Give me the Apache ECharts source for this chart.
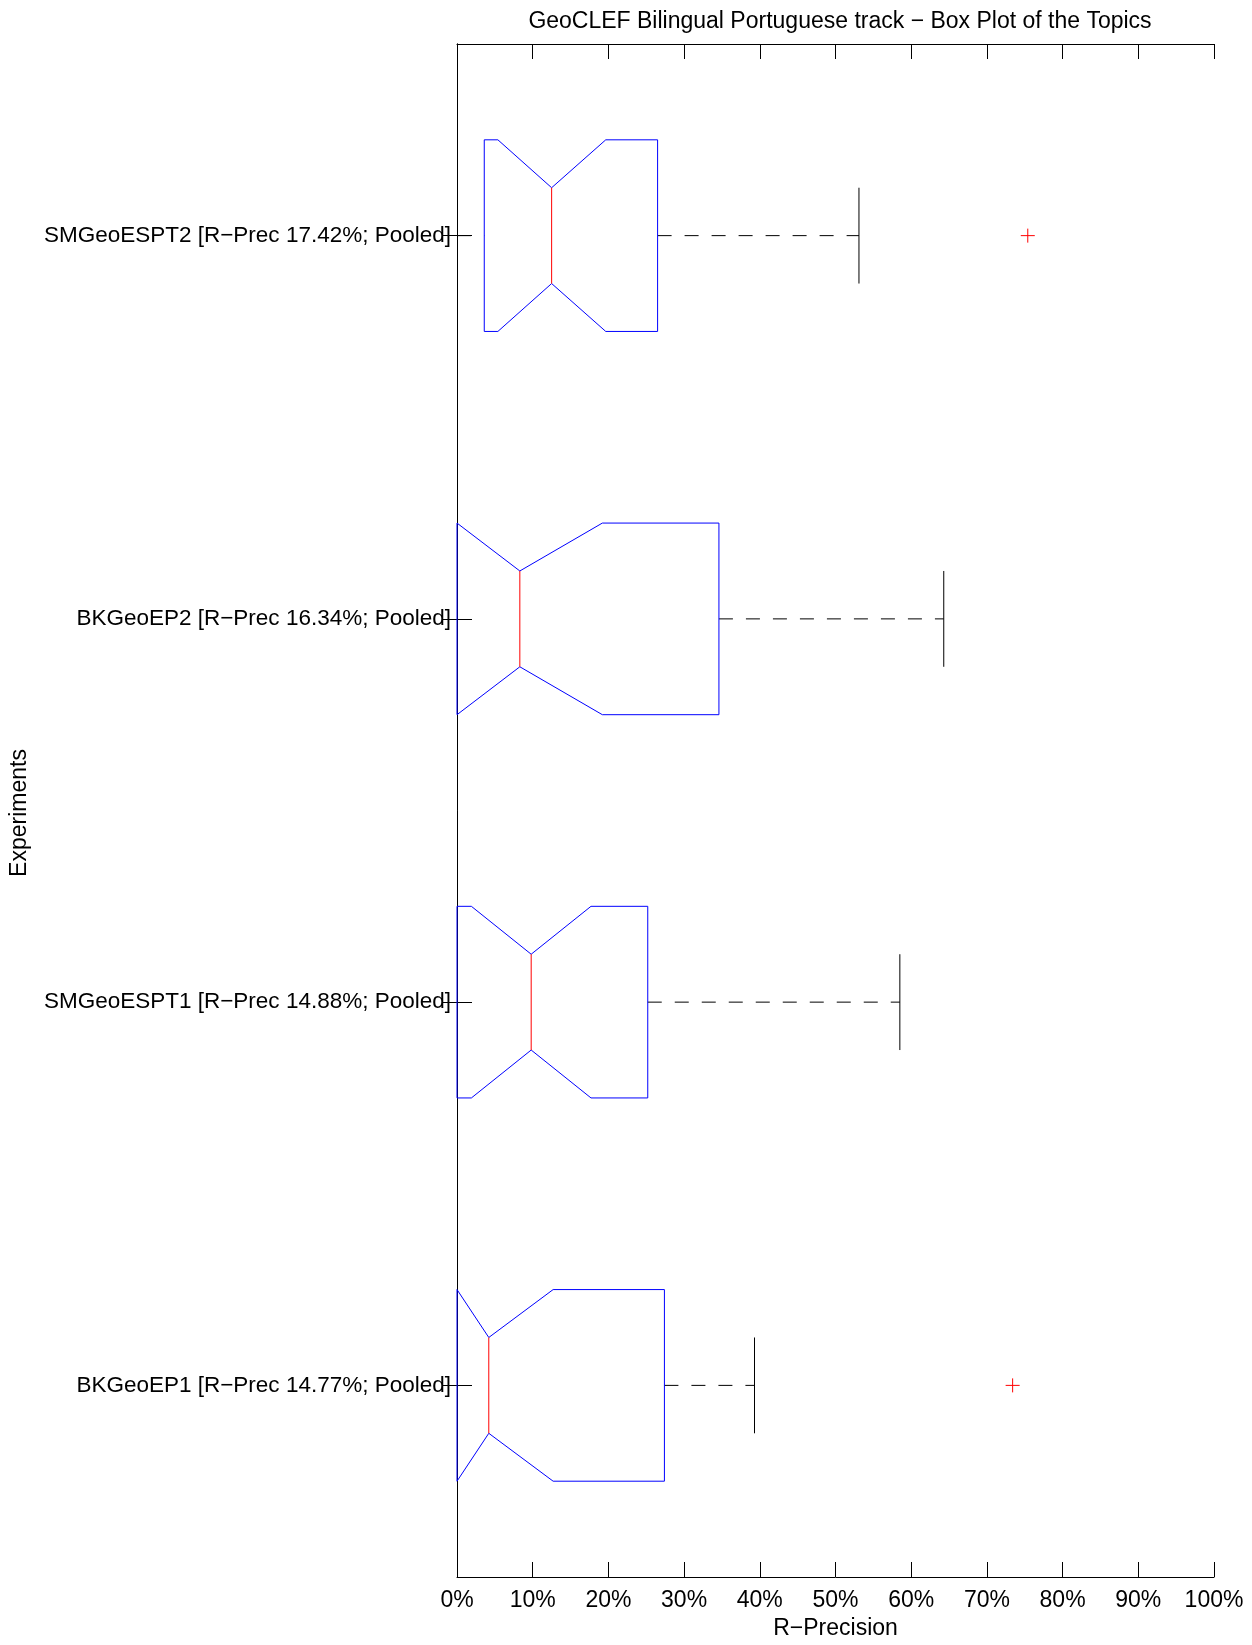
<!DOCTYPE html>
<html>
<head>
<meta charset="utf-8">
<script src="https://cdn.jsdelivr.net/npm/echarts@6/dist/echarts.min.js"></script>
<style>
  html, body { margin: 0; padding: 0; background: #fff; }
  #chart { width: 1252px; height: 1645px; }
</style>
</head>
<body>
<div id="chart"></div>
<script>
// ---- Data (categories listed bottom to top) ----
const categories = [
  'BKGeoEP1 [R\u2212Prec 14.77%; Pooled]',
  'SMGeoESPT1 [R\u2212Prec 14.88%; Pooled]',
  'BKGeoEP2 [R\u2212Prec 16.34%; Pooled]',
  'SMGeoESPT2 [R\u2212Prec 17.42%; Pooled]'
];
const whiskerLow  = [0, 0, 0, 0];
const quartile1   = [0, 0, 0, 3.6];
const notchLow    = [0, 1.9, 0, 5.4];
const medians     = [4.2, 9.8, 8.3, 12.5];
const notchHigh   = [12.7, 17.7, 19.2, 19.65];
const quartile3   = [27.4, 25.2, 34.6, 26.5];
const whiskerHigh = [39.3, 58.5, 64.3, 53.1];
const outlierValues     = [73.4, 75.4];
const outlierCategories = [0, 3];
const xTicks = [0, 10, 20, 30, 40, 50, 60, 70, 80, 90, 100];

const titleText = 'GeoCLEF Bilingual Portuguese track \u2212 Box Plot of the Topics';
const xName = 'R\u2212Precision';
const yName = 'Experiments';

// ---- Build series data ----
const boxData = categories.map((c, i) => [i, whiskerLow[i], quartile1[i], notchLow[i], medians[i], notchHigh[i], quartile3[i], whiskerHigh[i]]);
const outlierData = outlierValues.map((v, i) => [v, outlierCategories[i]]);

const FONT = "'Liberation Sans', Arial, Helvetica, sans-serif";
const FS = 23;
const chart = echarts.init(document.getElementById('chart'), null, { renderer: 'canvas' });

function renderBox(params, api) {
  const c = api.value(0);
  const lo = api.value(1), q1 = api.value(2), nlo = api.value(3), med = api.value(4),
        nhi = api.value(5), q3 = api.value(6), hi = api.value(7);
  const band = api.size([0, 1])[1];
  const yc = api.coord([0, c])[1];
  const X = v => api.coord([v, c])[0];
  const hb = band * 0.25, hn = band * 0.125;
  const top = yc - hb, bot = yc + hb;
  const children = [];
  // upper whisker (dashed, from box to end)
  children.push({ type: 'line', shape: { x1: X(q3), y1: yc, x2: X(hi), y2: yc },
    style: { stroke: '#000', lineWidth: 1, lineDash: [14, 13] } });
  children.push({ type: 'line', shape: { x1: X(hi), y1: yc - hn, x2: X(hi), y2: yc + hn },
    style: { stroke: '#000', lineWidth: 1 } });
  if (q1 > lo) {
    children.push({ type: 'line', shape: { x1: X(lo), y1: yc, x2: X(q1), y2: yc },
      style: { stroke: '#000', lineWidth: 1, lineDash: [14, 13] } });
  }
  // notched box
  children.push({ type: 'polygon', shape: { points: [
      [X(q1), top], [X(nlo), top], [X(med), yc - hn], [X(nhi), top], [X(q3), top],
      [X(q3), bot], [X(nhi), bot], [X(med), yc + hn], [X(nlo), bot], [X(q1), bot]
    ] }, style: { fill: 'none', stroke: '#0000ff', lineWidth: 1 } });
  // median
  children.push({ type: 'line', shape: { x1: X(med), y1: yc - hn, x2: X(med), y2: yc + hn },
    style: { stroke: '#ff0000', lineWidth: 1 } });
  return { type: 'group', children };
}

function renderOutlier(params, api) {
  const p = api.coord([api.value(0), api.value(1)]);
  const s = 7;
  return { type: 'group', children: [
    { type: 'line', shape: { x1: p[0] - s, y1: p[1], x2: p[0] + s, y2: p[1] }, style: { stroke: '#ff0000', lineWidth: 1 } },
    { type: 'line', shape: { x1: p[0], y1: p[1] - s, x2: p[0], y2: p[1] + s }, style: { stroke: '#ff0000', lineWidth: 1 } }
  ] };
}

const axisLineStyle = { show: true, lineStyle: { color: '#000', width: 1 } };
const tickStyle = { show: true, inside: true, length: 15, lineStyle: { color: '#000', width: 1 } };

chart.setOption({
  animation: false,
  backgroundColor: '#fff',
  textStyle: { fontFamily: FONT },
  title: {
    text: titleText, left: 840, top: 10, textAlign: 'center', padding: 0,
    textStyle: { fontSize: FS, fontWeight: 'normal', color: '#000', fontFamily: FONT }
  },
  grid: { left: 457, right: 38, top: 44, bottom: 60, containLabel: false },
  graphic: [{
    type: 'text', x: 20, y: 813, rotation: Math.PI / 2,
    style: { text: yName, fontSize: FS, fill: '#000', fontFamily: FONT, align: 'center', verticalAlign: 'middle' }
  }],
  xAxis: [
    {
      type: 'value', min: 0, max: 100, interval: 10, position: 'bottom',
      axisLine: axisLineStyle, axisTick: tickStyle, splitLine: { show: false },
      axisLabel: { formatter: '{value}%', fontSize: FS, color: '#000', margin: 12, fontFamily: FONT,
        customValues: xTicks },
      name: xName, nameLocation: 'middle', nameGap: 40,
      nameTextStyle: { fontSize: FS, color: '#000', fontFamily: FONT }
    },
    {
      type: 'value', min: 0, max: 100, interval: 10, position: 'top',
      axisLine: axisLineStyle, axisTick: tickStyle, splitLine: { show: false },
      axisLabel: { show: false }
    }
  ],
  yAxis: [
    {
      type: 'category', data: categories, position: 'left',
      axisLine: axisLineStyle,
      axisTick: Object.assign({ alignWithLabel: true }, tickStyle),
      axisLabel: { fontSize: 22.5, color: '#000', margin: 6, fontFamily: FONT },
      splitLine: { show: false }
    },
    {
      type: 'category', data: categories, position: 'right',
      axisLine: axisLineStyle,
      axisTick: Object.assign({ alignWithLabel: true }, tickStyle),
      axisLabel: { show: false }, splitLine: { show: false }
    }
  ],
  series: [
    {
      type: 'custom', name: 'box', xAxisIndex: 0, yAxisIndex: 0,
      renderItem: renderBox, data: boxData,
      encode: { x: [1, 2, 3, 4, 5, 6, 7], y: 0 }, clip: false
    },
    {
      type: 'custom', name: 'outliers', xAxisIndex: 0, yAxisIndex: 0,
      renderItem: renderOutlier, data: outlierData,
      encode: { x: 0, y: 1 }, clip: false
    }
  ]
});
</script>
</body>
</html>
